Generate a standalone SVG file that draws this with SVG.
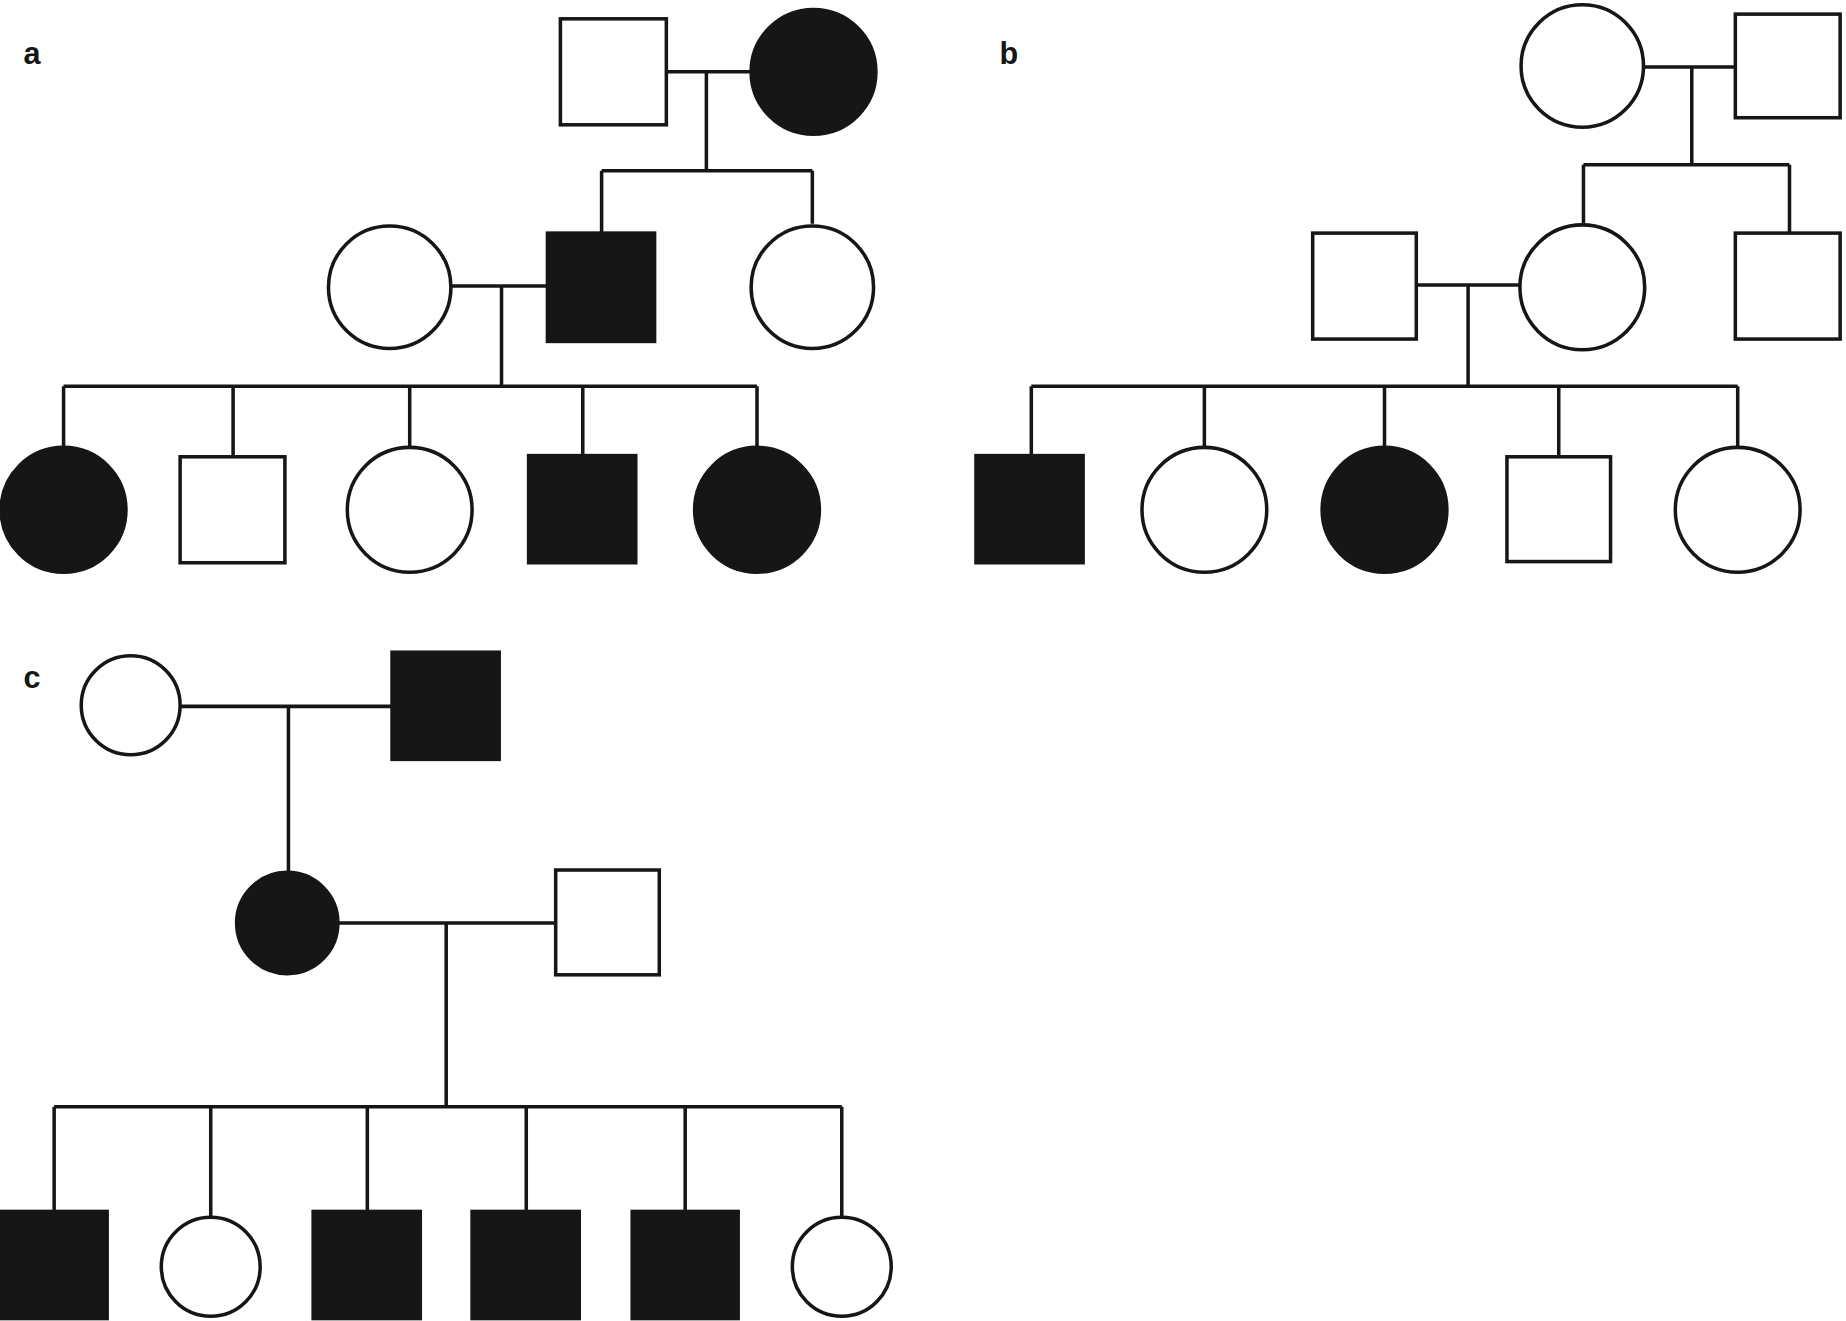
<svg xmlns="http://www.w3.org/2000/svg" width="1846" height="1321" viewBox="0 0 1846 1321">
<style>
.o{fill:#fff;stroke:#161616;stroke-width:3}
.f{fill:#161616;stroke:#161616;stroke-width:3}
.l{fill:none;stroke:#161616;stroke-width:3}
.t{font-family:"Liberation Sans",Arial,sans-serif;font-weight:bold;font-size:26px;fill:#161616}
</style>
<rect width="1846" height="1321" fill="#fff"/>
<g transform="scale(1.1773)">
<g id="connectors">
<path class="l" d="M566 61H638M600 61V145M511 145H690M511 145V198M690 145V190M383 243H465M426 243V328M54 328H643M54 328V380M198 328V387M348 328V380M495 328V387M643 328V380"/>
<path class="l" d="M1396 57H1474M1437 57V140M1345 140H1520M1345 140V190M1520 140V198M1203 242H1291M1247 242V328M876 328H1476M876 328V387M1023 328V380M1176 328V380M1324 328V387M1476 328V380"/>
<path class="l" d="M153 600H333M245 600V740M287 784H472M379 784V940M46 940H715M46 940V1029M179 940V1034M312 940V1029M447 940V1029M582 940V1029M715 940V1034"/>
</g>
<text class="t" x="20" y="54">a</text>
<text class="t" x="849" y="54">b</text>
<text class="t" x="20" y="584">c</text>
<g id="a1"><rect class="o" x="476" y="16" width="90" height="90"/></g>
<g id="a2"><circle class="f" cx="691" cy="61" r="53"/></g>
<g id="a3"><circle class="o" cx="331" cy="244" r="52"/></g>
<g id="a4"><rect class="f" x="465" y="198" width="91" height="92"/></g>
<g id="a5"><circle class="o" cx="690" cy="244" r="52"/></g>
<g id="a6"><circle class="f" cx="54" cy="433" r="53"/></g>
<g id="a7"><rect class="o" x="153" y="388" width="89" height="90"/></g>
<g id="a8"><circle class="o" cx="348" cy="433" r="53"/></g>
<g id="a9"><rect class="f" x="449" y="387" width="91" height="91"/></g>
<g id="a10"><circle class="f" cx="643" cy="433" r="53"/></g>
<g id="b1"><circle class="o" cx="1344" cy="56" r="52"/></g>
<g id="b2"><rect class="o" x="1474" y="12" width="89" height="88"/></g>
<g id="b3"><rect class="o" x="1115" y="198" width="88" height="90"/></g>
<g id="b4"><circle class="o" cx="1344" cy="244" r="53"/></g>
<g id="b5"><rect class="o" x="1474" y="198" width="89" height="90"/></g>
<g id="b6"><rect class="f" x="829" y="387" width="91" height="91"/></g>
<g id="b7"><circle class="o" cx="1023" cy="433" r="53"/></g>
<g id="b8"><circle class="f" cx="1176" cy="433" r="53"/></g>
<g id="b9"><rect class="o" x="1280" y="388" width="88" height="89"/></g>
<g id="b10"><circle class="o" cx="1476" cy="433" r="53"/></g>
<g id="c1"><circle class="o" cx="111" cy="599" r="42"/></g>
<g id="c2"><rect class="f" x="333" y="554" width="91" height="91"/></g>
<g id="c3"><circle class="f" cx="244" cy="784" r="43"/></g>
<g id="c4"><rect class="o" x="472" y="739" width="88" height="89"/></g>
<g id="c5"><rect class="f" x="0" y="1029" width="91" height="91"/></g>
<g id="c6"><circle class="o" cx="179" cy="1076" r="42"/></g>
<g id="c7"><rect class="f" x="266" y="1029" width="91" height="91"/></g>
<g id="c8"><rect class="f" x="401" y="1029" width="91" height="91"/></g>
<g id="c9"><rect class="f" x="537" y="1029" width="90" height="91"/></g>
<g id="c10"><circle class="o" cx="715" cy="1076" r="42"/></g>
</g>
</svg>
